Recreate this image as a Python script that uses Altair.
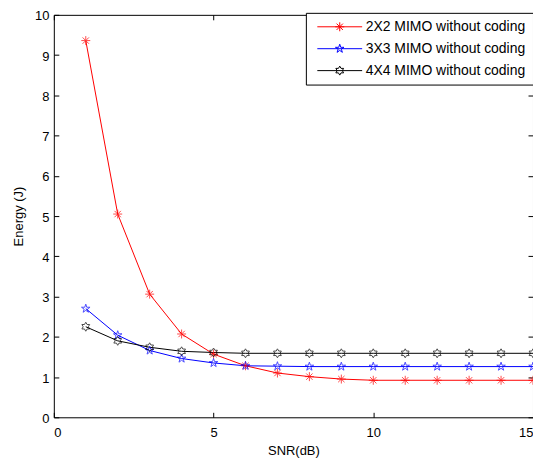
import altair as alt
import pandas as pd

snr = list(range(1, 16))
series_names = ["2X2 MIMO without coding", "3X3 MIMO without coding", "4X4 MIMO without coding"]
energy_2x2 = [9.36, 5.05, 3.06, 2.07, 1.57, 1.28, 1.10, 1.01, 0.95, 0.92, 0.92, 0.92, 0.92, 0.92, 0.92]
energy_3x3 = [2.70, 2.04, 1.66, 1.46, 1.35, 1.28, 1.27, 1.26, 1.26, 1.26, 1.26, 1.26, 1.26, 1.26, 1.26]
energy_4x4 = [2.25, 1.90, 1.74, 1.64, 1.61, 1.59, 1.59, 1.59, 1.59, 1.59, 1.59, 1.59, 1.59, 1.59, 1.59]
colors = ["#ff0000", "#0000ff", "#000000"]
x_ticks = [0, 5, 10, 15]
y_ticks = list(range(0, 11))

asterisk = "M-1,0L1,0M0,-1L0,1M-0.707,-0.707L0.707,0.707M-0.707,0.707L0.707,-0.707"
pentagram = ("M0,-1L0.225,-0.309L0.951,-0.309L0.363,0.118L0.588,0.809L0,0.382"
             "L-0.588,0.809L-0.363,0.118L-0.951,-0.309L-0.225,-0.309Z")
hexagram = ("M0,-1L0.289,-0.5L0.866,-0.5L0.577,0L0.866,0.5L0.289,0.5L0,1"
            "L-0.289,0.5L-0.866,0.5L-0.577,0L-0.866,-0.5L-0.289,-0.5Z")
shapes = [asterisk, pentagram, hexagram]
legend_line = "M-5.0,0L5.0,0"
legend_shapes = [legend_line + s for s in shapes]

rows = []
for name, vals in zip(series_names, [energy_2x2, energy_3x3, energy_4x4]):
    for s, e in zip(snr, vals):
        rows.append({"snr": s, "energy": e, "series": name})
df = pd.DataFrame(rows)

FONT = "Liberation Sans"

legend = alt.Legend(
    title=None, orient="none", legendX=253, legendY=-2,
    strokeColor="black", fillColor="white", padding=7, rowPadding=8,
    labelFont=FONT, labelFontSize=14, labelColor="black", labelLimit=300,
    symbolSize=81, symbolStrokeWidth=1, symbolOffset=20, labelOffset=19,
    symbolOpacity=1,
)

xs = alt.Scale(domain=[0, 15], nice=False)
ys = alt.Scale(domain=[0, 10], nice=False)
cscale = alt.Scale(domain=series_names, range=colors)

xaxis = alt.Axis(orient="bottom", values=x_ticks, title="SNR(dB)", grid=False, domain=False,
                 offset=-5, tickSize=5, tickColor="black", labelPadding=9,
                 labelFont=FONT, labelFontSize=13, labelColor="black",
                 titleFont=FONT, titleFontSize=13, titleFontWeight="normal", titleColor="black",
                 titlePadding=5)
yaxis = alt.Axis(orient="left", values=y_ticks, title="Energy (J)", grid=False, domain=False,
                 offset=-5, tickSize=5, tickColor="black", labelPadding=5, labelOffset=1,
                 labelFont=FONT, labelFontSize=13, labelColor="black",
                 titleFont=FONT, titleFontSize=13, titleFontWeight="normal", titleColor="black",
                 titlePadding=9)

X = alt.X("snr:Q", scale=xs, axis=xaxis)
Y = alt.Y("energy:Q", scale=ys, axis=yaxis)

base = alt.Chart(df)
lines = base.mark_line(strokeWidth=1).encode(
    x=X, y=Y, color=alt.Color("series:N", scale=cscale, legend=None),
)
points = base.mark_point(filled=False, size=81, strokeWidth=1).encode(
    x=X, y=Y,
    color=alt.Color("series:N", scale=cscale, legend=None),
    shape=alt.Shape("series:N", scale=alt.Scale(domain=series_names, range=shapes), legend=None),
)
legend_layer = base.mark_point(filled=False, size=0, strokeWidth=1).encode(
    x=X, y=Y,
    color=alt.Color("series:N", scale=cscale, legend=legend),
    shape=alt.Shape("series:N", scale=alt.Scale(domain=series_names, range=legend_shapes), legend=legend),
)
ticks = base.mark_point(opacity=0).encode(
    x=alt.X("snr:Q", scale=xs, axis=alt.Axis(orient="top", values=x_ticks, labels=False, title=None,
                                             grid=False, domain=False, offset=-5, tickSize=5,
                                             tickColor="black")),
    y=alt.Y("energy:Q", scale=ys, axis=alt.Axis(orient="right", values=y_ticks, labels=False, title=None,
                                                grid=False, domain=False, offset=-5, tickSize=5,
                                                tickColor="black")),
)

inner = alt.layer(lines, points, legend_layer).resolve_scale(color="independent", shape="independent")
chart = alt.layer(inner, ticks).resolve_axis(
    x="independent", y="independent"
).properties(
    width=481, height=404,
    autosize=alt.AutoSizeParams(type="none"),
    padding={"left": 46, "top": 6, "right": 0, "bottom": 40},
    background="white",
).configure_view(stroke="black", strokeWidth=1)

chart.save("out.html", embed_options={"renderer": "svg", "actions": False})
